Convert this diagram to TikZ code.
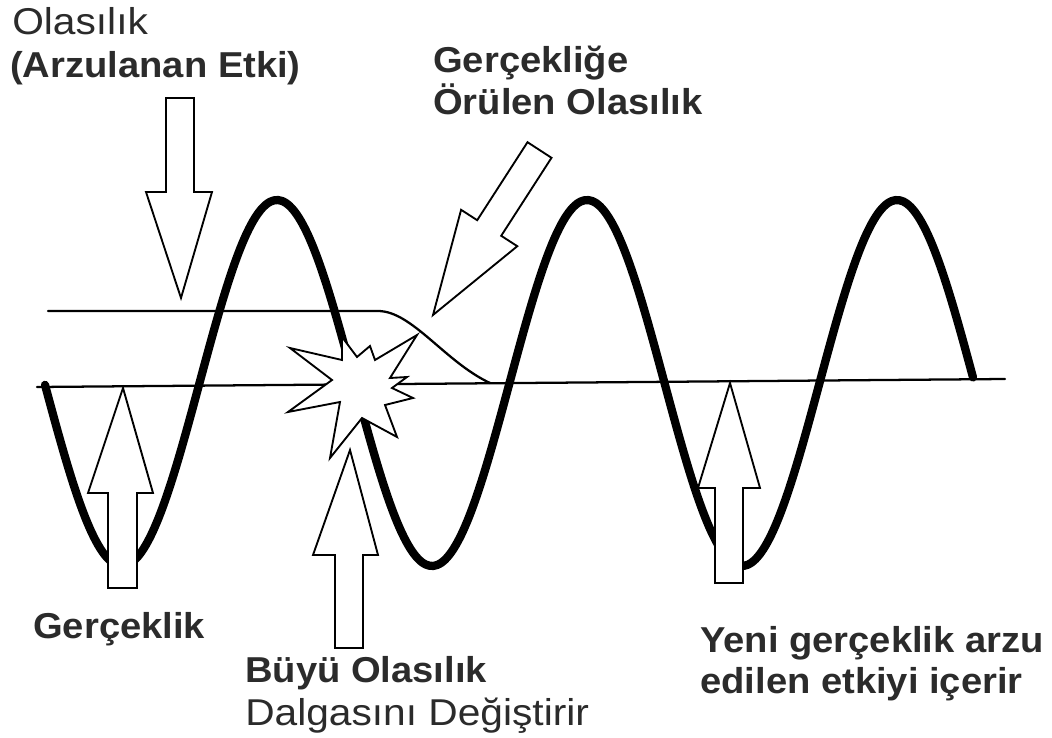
\documentclass[tikz,border=0pt]{standalone}
\usepackage{fontspec}
\setmainfont{Liberation Sans}
\usepackage{graphicx}
\definecolor{txt}{HTML}{2B2B2B}
\newcommand{\wideB}[1]{\scalebox{1.06}[1]{#1}}
\newcommand{\wideR}[1]{\scalebox{1.09}[1]{#1}}
\begin{document}
\begin{tikzpicture}[x=0.75pt,y=-0.75pt,
  thinline/.style={line width=1.7pt, line cap=round},
  wave/.style={line width=6.2pt, line cap=round, line join=round},
  blockarrow/.style={draw, fill=white, line width=1.4pt, line join=miter},
  burst/.style={draw, fill=white, line width=1.4pt, line join=miter},
  boldtxt/.style={anchor=base west, inner sep=0pt, text=txt, font=\fontsize{27}{32}\selectfont\bfseries},
  regtxt/.style={anchor=base west, inner sep=0pt, text=txt, font=\fontsize{28}{32}\selectfont}]
\useasboundingbox (0,0) rectangle (1052,738);
\fill[white] (0,0) rectangle (1052,738);

% base line and upper probability line
\coordinate (bl0) at (37,387);
\coordinate (bl1) at (1005,379);
\draw[thinline] (bl0) -- (bl1);
\coordinate (ul0) at (48,311);
\coordinate (ul1) at (378,311);
\coordinate (ul2) at (490,383);
\draw[thinline] (ul0) -- (ul1) .. controls (412,311) and (445,362) .. (ul2);

% wave
\draw[wave] plot[domain=45:973, samples=240, smooth] (\x, {383+183*cos(1.16129*(\x-122))});

% burst
\draw[burst] (342,337) -- (357,357) -- (370,346) -- (375,360) -- (417,335) -- (390,378)
  -- (407,377) -- (392,388) -- (413,398) -- (385,405) -- (397,437) -- (362,418)
  -- (330,458) -- (340,402) -- (288,412) -- (332,380) -- (290,348) -- (342,360) -- cycle;

% block arrows
\draw[blockarrow] (166,98) -- (194,98) -- (194,192) -- (212,192) -- (181,298) -- (146,192) -- (166,192) -- cycle;
\draw[blockarrow] (527.5,142.2) -- (551.5,157.8) -- (501.2,235.8) -- (517.3,246.2) -- (433,315) -- (461.1,209.8) -- (477.2,220.2) -- cycle;
\draw[blockarrow] (108,588) -- (137,588) -- (137,493) -- (153,493) -- (123,388) -- (88,493) -- (108,493) -- cycle;
\draw[blockarrow] (335,648) -- (363,648) -- (363,555) -- (378,555) -- (350,450) -- (313,555) -- (335,555) -- cycle;
\draw[blockarrow] (715,583) -- (743,583) -- (743,488) -- (760,488) -- (730,383) -- (698,488) -- (715,488) -- cycle;

% labels
\node[regtxt] (olas) at (12,35) {\wideR{Olasılık}};
\node[boldtxt] (arzu) at (10,78) {\wideB{(Arzulanan Etki)}};
\node[boldtxt] (gerc1) at (433,73) {\wideB{Gerçekliğe}};
\node[boldtxt] (gerc2) at (433,115) {\wideB{Örülen Olasılık}};
\node[boldtxt] (gercek) at (33,638) {\wideB{Gerçeklik}};
\node[boldtxt] (buyu1) at (245,682) {\wideB{Büyü Olasılık}};
\node[regtxt] (buyu2) at (245,725) {\wideR{Dalgasını Değiştirir}};
\node[boldtxt] (yeni1) at (700,652) {\wideB{Yeni gerçeklik arzu}};
\node[boldtxt] (yeni2) at (700,693) {\wideB{edilen etkiyi içerir}};
\end{tikzpicture}
\end{document}
